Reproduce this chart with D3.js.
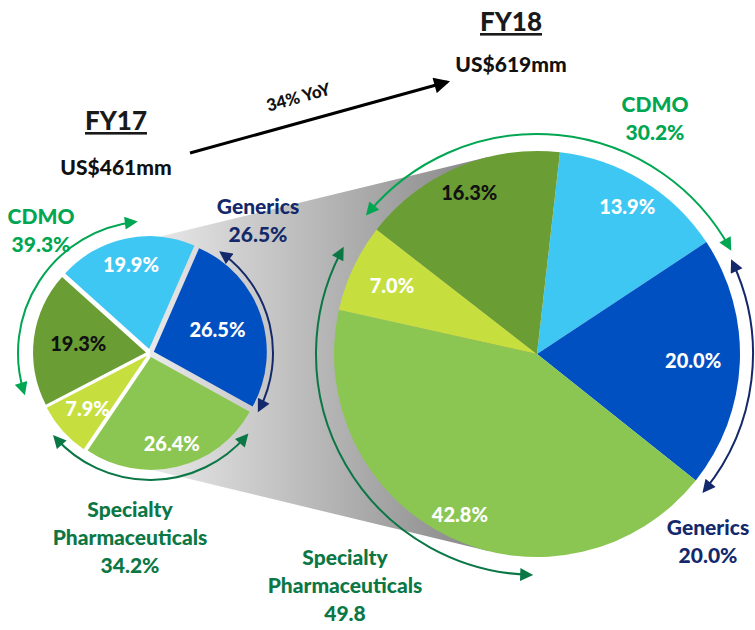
<!DOCTYPE html>
<html>
<head>
<meta charset="utf-8">
<script src="https://cdn.jsdelivr.net/npm/d3@7"></script>
<style>
  body { margin: 0; background: #fff; }
  svg { display: block; font-family: Lato, "Open Sans", sans-serif; font-weight: 900; }
</style>
</head>
<body>
<div id="chart"></div>
<script>
// --- Data ---
const YEARS = ["FY17", "FY18"];
const REVENUE_LABELS = ["US$461mm", "US$619mm"];
const GROWTH_LABEL = "34% YoY";

// slices in clockwise order (same order in both years)
const SLICE_GROUP = ["CDMO", "Generics", "Specialty Pharmaceuticals", "Specialty Pharmaceuticals", "CDMO"];
const FY17_VALUES = [19.9, 26.5, 26.4, 7.9, 19.3];
const FY18_VALUES = [13.9, 20.0, 42.8, 7.0, 16.3];

const GROUP_NAMES = ["CDMO", "Generics", "Specialty Pharmaceuticals"];
const FY17_GROUP_LABELS = ["39.3%", "26.5%", "34.2%"];
const FY18_GROUP_LABELS = ["30.2%", "20.0%", "49.8"];

// --- Styles / layout ---
const W = 755, H = 630;
const SLICE_COLORS = ["#3fc7f4", "#0050c1", "#8cc652", "#c6df3f", "#6a9e34"];
const SLICE_TEXT = ["#fff", "#fff", "#fff", "#fff", "#111"];
const GROUP_COLORS = { "CDMO": "#00a651", "Generics": "#13296b", "Specialty Pharmaceuticals": "#0b7745" };

const deg = a => a * Math.PI / 180;

const PIE17 = { cx: 150, cy: 353, r: 113, start: -48, explode: 4,
  labelR: [0.8, 0.63, 0.83, 0.74, 0.64] };
const PIE18 = { cx: 537, cy: 354, r: 203, start: 6.5, explode: 0,
  labelR: [0.85, 0.77, 0.88, 0.79, 0.86] };

// curved double arrows around the pies: [group, from deg, to deg, radius]
const ARCS17 = [["CDMO", 253, 353, 132], ["Generics", 36, 117, 123], ["Specialty Pharmaceuticals", 131, 228, 127]];
const ARCS18 = [["CDMO", 310, 421, 220], ["Generics", 65, 129, 216], ["Specialty Pharmaceuticals", 182, 298, 221]];

// group label anchor points (x, first baseline)
const GLABEL17 = { "CDMO": [41, 224], "Generics": [258, 214], "Specialty Pharmaceuticals": [130, 517] };
const GLABEL18 = { "CDMO": [655, 112], "Generics": [708, 535], "Specialty Pharmaceuticals": [345, 565] };

const svg = d3.select("#chart").append("svg")
  .attr("width", W).attr("height", H);

const defs = svg.append("defs");

// funnel gradient
const grad = defs.append("linearGradient")
  .attr("id", "funnel").attr("gradientUnits", "userSpaceOnUse")
  .attr("x1", 150).attr("y1", 0).attr("x2", 490).attr("y2", 0);
grad.append("stop").attr("offset", 0).attr("stop-color", "#e9e9e9");
grad.append("stop").attr("offset", 1).attr("stop-color", "#858585");

// arrow markers
Object.entries(GROUP_COLORS).forEach(([k, c], i) => {
  defs.append("marker")
    .attr("id", "head" + i)
    .attr("viewBox", "0 0 10 10")
    .attr("refX", 7).attr("refY", 5)
    .attr("markerUnits", "userSpaceOnUse")
    .attr("markerWidth", 14).attr("markerHeight", 13)
    .attr("orient", "auto-start-reverse")
    .append("path").attr("d", "M0,0 L10,5 L0,10 z").attr("fill", c);
});
defs.append("marker")
  .attr("id", "headBlack")
  .attr("viewBox", "0 0 10 10")
  .attr("refX", 8).attr("refY", 5)
  .attr("markerUnits", "userSpaceOnUse")
  .attr("markerWidth", 20).attr("markerHeight", 16)
  .attr("orient", "auto")
  .append("path").attr("d", "M0,0 L10,5 L0,10 z").attr("fill", "#000");

const markerFor = g => "url(#head" + Object.keys(GROUP_COLORS).indexOf(g) + ")";

// --- Funnel (tangent to the big pie) ---
const tangentPoint = (px, py, pie, side) => {
  const dx = pie.cx - px, dy = pie.cy - py;
  const d = Math.hypot(dx, dy);
  const base = Math.atan2(dy, dx);
  const off = Math.asin(pie.r / d);
  const a = base + side * off;
  const len = Math.sqrt(d * d - pie.r * pie.r);
  return [px + len * Math.cos(a), py + len * Math.sin(a)];
};
const fTopL = [150, 239], fBotL = [144, 468];
const fTopR = tangentPoint(fTopL[0], fTopL[1], PIE18, -1);
const fBotR = tangentPoint(fBotL[0], fBotL[1], PIE18, 1);
svg.append("path")
  .attr("d", d3.line()([fTopL, fTopR, [PIE18.cx, PIE18.cy], fBotR, fBotL, [PIE17.cx, PIE17.cy]]) + "Z")
  .attr("fill", "url(#funnel)");

// --- Pies ---
function drawPie(pie, values) {
  const layout = d3.pie().sort(null)
    .startAngle(deg(pie.start)).endAngle(deg(pie.start) + 2 * Math.PI)
    .value(d => d);
  const arc = d3.arc().innerRadius(0).outerRadius(pie.r);
  const g = svg.append("g").attr("transform", `translate(${pie.cx},${pie.cy})`);
  const slices = layout(values);

  g.selectAll("path.slice").data(slices).join("path")
    .attr("class", "slice")
    .attr("transform", d => {
      const m = (d.startAngle + d.endAngle) / 2;
      return `translate(${Math.sin(m) * pie.explode},${-Math.cos(m) * pie.explode})`;
    })
    .attr("d", arc)
    .attr("fill", (d, i) => SLICE_COLORS[i]);

  g.selectAll("text.pct").data(slices).join("text")
    .attr("class", "pct")
    .attr("text-anchor", "middle")
    .attr("dy", "0.35em")
    .attr("x", (d, i) => Math.sin((d.startAngle + d.endAngle) / 2) * pie.r * pie.labelR[i])
    .attr("y", (d, i) => -Math.cos((d.startAngle + d.endAngle) / 2) * pie.r * pie.labelR[i])
    .attr("fill", (d, i) => SLICE_TEXT[i])
    .style("font-size", "20px")
    .text(d => d3.format(".1f")(d.data) + "%");
}

function drawArcs(pie, arcs) {
  arcs.forEach(([grp, a0, a1, r]) => {
    const p = d3.path();
    p.arc(pie.cx, pie.cy, r, deg(a0 - 90), deg(a1 - 90), false);
    svg.append("path")
      .attr("d", p.toString())
      .attr("fill", "none")
      .attr("stroke", GROUP_COLORS[grp])
      .attr("stroke-width", 2)
      .attr("marker-start", markerFor(grp))
      .attr("marker-end", markerFor(grp));
  });
}

function drawGroupLabels(pos, labels) {
  GROUP_NAMES.forEach((name, i) => {
    const [x, y] = pos[name];
    const lines = name.split(" ").concat([labels[i]]);
    const t = svg.append("text")
      .attr("text-anchor", "middle")
      .attr("fill", GROUP_COLORS[name])
      .style("font-size", "21px");
    lines.forEach((ln, j) => {
      t.append("tspan").attr("x", x).attr("y", y + j * 28).text(ln);
    });
  });
}

drawPie(PIE17, FY17_VALUES);
drawPie(PIE18, FY18_VALUES);
drawArcs(PIE17, ARCS17);
drawArcs(PIE18, ARCS18);
drawGroupLabels(GLABEL17, FY17_GROUP_LABELS);
drawGroupLabels(GLABEL18, FY18_GROUP_LABELS);

// --- Year titles ---
const TITLES = [[116, 130, 175], [511, 31, 72]];
YEARS.forEach((yr, i) => {
  const [x, y, y2] = TITLES[i];
  svg.append("text")
    .attr("x", x).attr("y", y)
    .attr("text-anchor", "middle")
    .attr("text-decoration", "underline")
    .attr("fill", "#1a1a1a")
    .style("font-size", "26px")
    .text(yr);
  svg.append("text")
    .attr("x", x).attr("y", y2)
    .attr("text-anchor", "middle")
    .attr("fill", "#111")
    .style("font-size", "21px")
    .text(REVENUE_LABELS[i]);
});

// --- Growth arrow ---
const ga = [[190, 153], [447, 82]];
svg.append("path")
  .attr("d", d3.line()(ga))
  .attr("stroke", "#000").attr("stroke-width", 3)
  .attr("marker-end", "url(#headBlack)");
const gAngle = Math.atan2(ga[1][1] - ga[0][1], ga[1][0] - ga[0][0]) * 180 / Math.PI;
svg.append("text")
  .attr("transform", `translate(300,103) rotate(${gAngle})`)
  .attr("text-anchor", "middle")
  .attr("fill", "#111")
  .style("font-size", "17px")
  .text(GROWTH_LABEL);
</script>
</body>
</html>
